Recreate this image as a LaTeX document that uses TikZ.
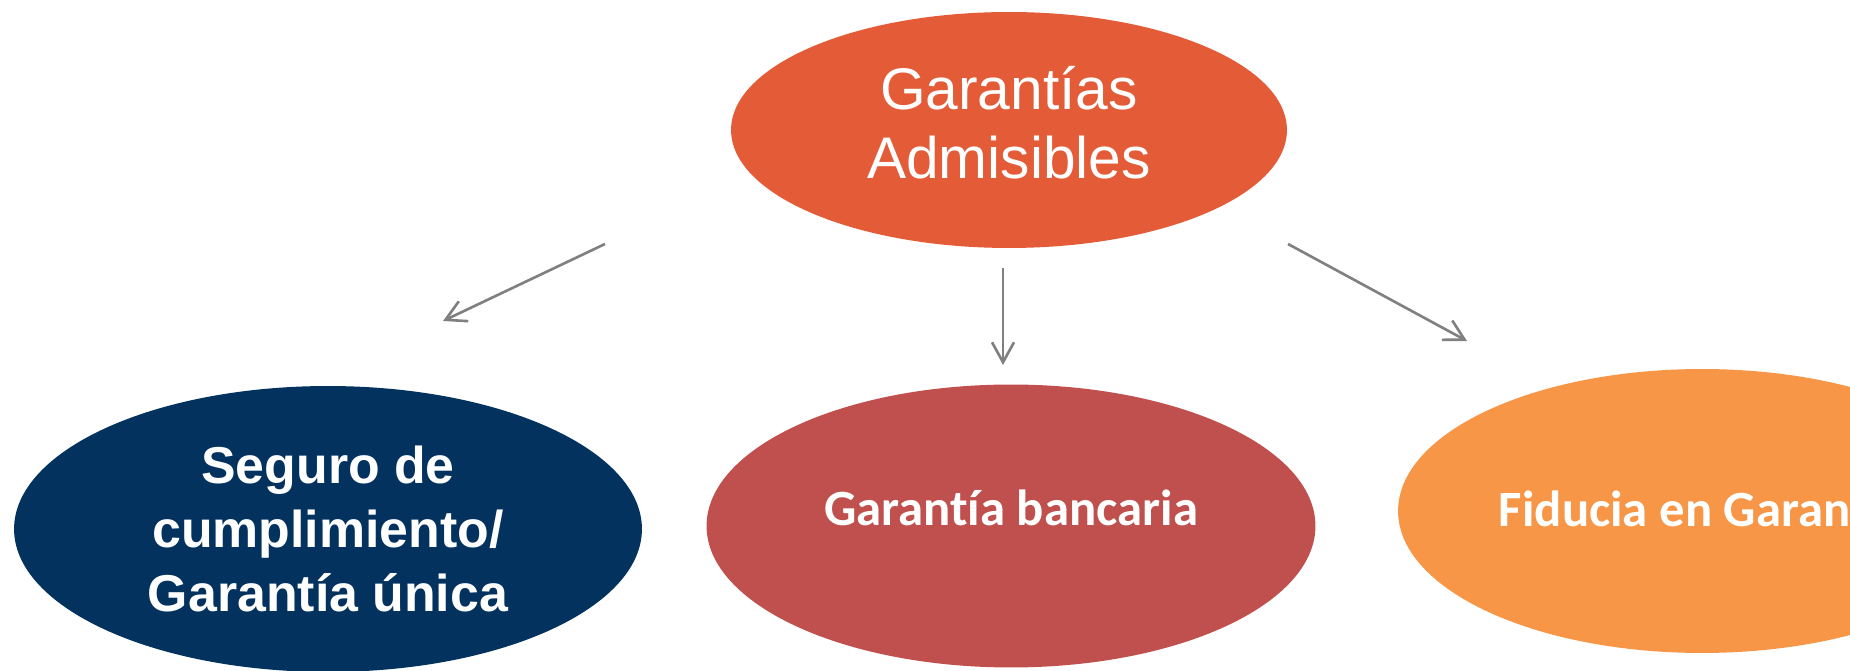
\documentclass[tikz,border=0pt]{standalone}
\usepackage{fontspec}
\usetikzlibrary{shapes.geometric,arrows.meta}
\newfontfamily\arialfont{Liberation Sans}
\newfontfamily\calibrifont[Ligatures={NoCommon},Contextuals={NoAlternate}]{Carlito}
\definecolor{topcol}{HTML}{E35B37}
\definecolor{navycol}{HTML}{03325F}
\definecolor{redcol}{HTML}{C0504D}
\definecolor{orangecol}{HTML}{F79646}
\definecolor{linkcol}{HTML}{808080}
\tikzset{
  blob/.style={ellipse,inner sep=0pt,text=white,align=center},
  link/.style={draw=linkcol,line width=1.5pt,-{Straight Barb[length=4mm,width=4.4mm]}}
}
\begin{document}
\begin{tikzpicture}[x=0.02cm,y=-0.02cm]
      \useasboundingbox (0,0) rectangle (1850,671);
      \node[blob,fill=topcol,minimum width=11.12cm,minimum height=4.72cm,text depth=0.3cm,
        font=\arialfont\fontsize{33.4pt}{39.7pt}\selectfont] (adm) at (1009,130) {Garantías\\Admisibles};
      \node[blob,fill=navycol,minimum width=12.56cm,minimum height=5.72cm,
        font=\arialfont\bfseries\fontsize{29.5pt}{36.3pt}\selectfont] (seguro) at (328,529) {Seguro de\\cumplimiento/\\Garantía única};
      \node[blob,fill=redcol,minimum width=12.18cm,minimum height=5.66cm,text height=0.72cm,text depth=0.72cm,
        font=\calibrifont\bfseries\fontsize{28.9pt}{34pt}\selectfont] (banco) at (1011,526) {Garantía bancaria};
      \node[blob,fill=orangecol,minimum width=12.16cm,minimum height=5.68cm,text height=0.72cm,text depth=0.08cm,
        font=\calibrifont\bfseries\fontsize{28.9pt}{34pt}\selectfont] (fiducia) at (1702,511) {Fiducia en Garantía};
      \coordinate (l1) at (605,244);
      \coordinate (l2) at (443,321);
      \coordinate (m1) at (1003,268);
      \coordinate (m2) at (1003,365);
      \coordinate (r1) at (1288,244);
      \coordinate (r2) at (1467,341);
      \draw[link] (l1) -- (l2);
      \draw[link] (m1) -- (m2);
      \draw[link] (r1) -- (r2);
    \end{tikzpicture}
\end{document}
